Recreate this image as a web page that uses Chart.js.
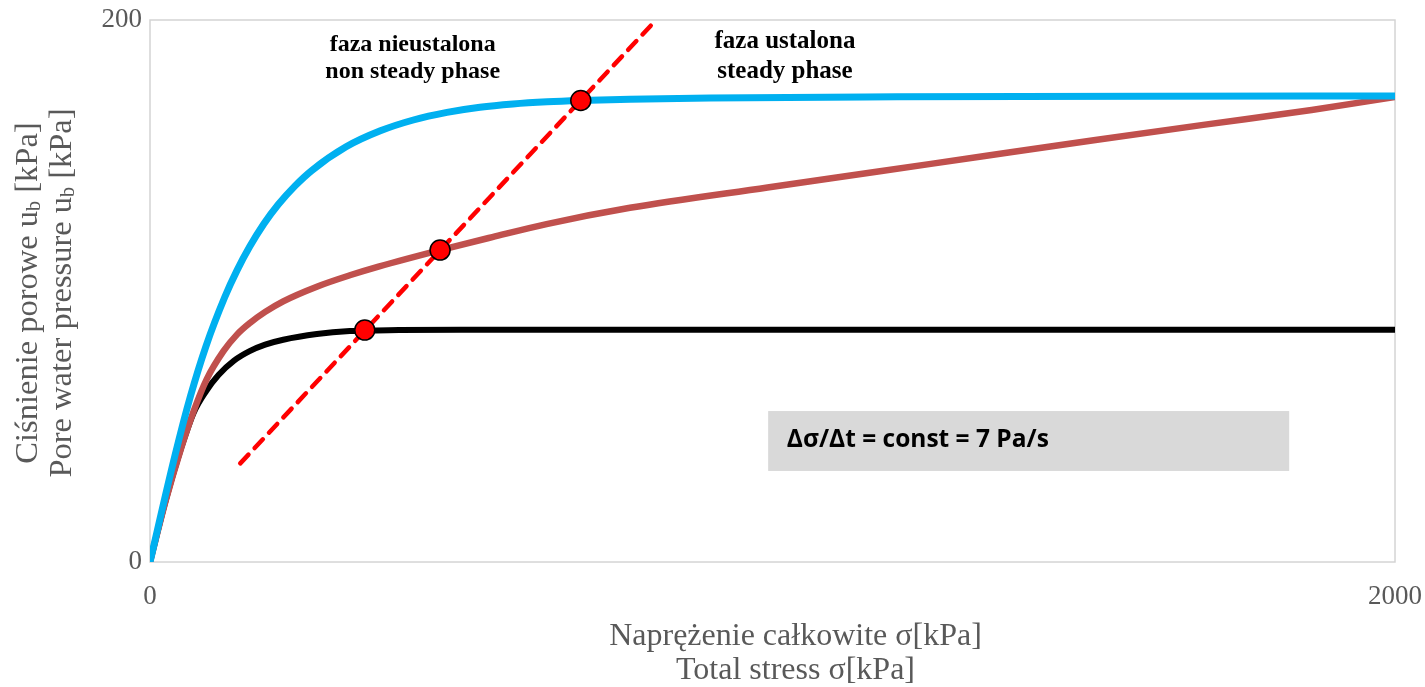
<!DOCTYPE html>
<html>
<head>
<meta charset="utf-8">
<script src="https://cdn.jsdelivr.net/npm/chart.js@4"></script>
<style>
  html, body { margin: 0; padding: 0; background: #fff; }
  #wrap { width: 1425px; height: 687px; }
</style>
</head>
<body>
<div id="wrap"><canvas id="stressChart"></canvas></div>
<script>
// values: total stress [kPa] -> pore water pressure [kPa]
const blueStress = [0, 40, 65, 90, 120, 140, 160, 183, 206, 233, 260, 315, 370, 423, 477, 530, 583, 638, 692, 771, 900, 1200, 1600, 2000];
const bluePressure = [0, 39.2, 61.2, 79.7, 97.7, 107.7, 116.3, 124.8, 131.9, 138.8, 144.5, 153.2, 159.1, 163.1, 165.9, 167.8, 169.0, 169.8, 170.3, 170.8, 171.25, 171.65, 171.9, 172];

const redStress = [0, 25, 50, 70, 91, 118, 140, 161, 185, 214, 268, 321, 367, 466, 550, 637, 771, 992, 1167, 1341, 1516, 1692, 1866, 2000];
const redPressure = [0, 22.5, 42, 55.6, 67.4, 77.8, 84.0, 88.3, 92.3, 96.2, 101.6, 105.8, 109.0, 115.1, 119.9, 124.7, 130.7, 138.2, 144.0, 149.8, 155.6, 161.3, 166.8, 171.6];

const blackStress = [0, 25, 50, 70, 90, 110, 135, 160, 185, 214, 268, 321, 400, 500, 700, 1000, 1500, 2000];
const blackPressure = [0, 22.5, 42, 55, 63, 69, 74.3, 77.8, 80.2, 82.0, 84.1, 85.2, 85.6, 85.7, 85.7, 85.7, 85.7, 85.7];

// dashed boundary between the two phases
const boundaryStress = [145, 813];
const boundaryPressure = [36.4, 200];

// points where the boundary crosses each curve
const crossStress = [345, 466, 692];
const crossPressure = [85.6, 115.1, 170.3];

const xTicks = [0, 2000];
const yTicks = [0, 200];

const pts = (xs, ys) => xs.map((x, i) => ({ x: x, y: ys[i] }));

const grey = '#595959';
const serif = "'Liberation Serif', 'Times New Roman', serif";

// draws a line of text where some parts are subscripts
function drawRich(ctx, parts, cx, cy, size) {
  const subSize = Math.round(size * 0.62);
  let total = 0;
  parts.forEach(p => {
    ctx.font = (p.sub ? subSize : size) + 'px ' + serif;
    p.w = ctx.measureText(p.t).width;
    total += p.w;
  });
  let x = cx - total / 2;
  parts.forEach(p => {
    ctx.font = (p.sub ? subSize : size) + 'px ' + serif;
    ctx.fillText(p.t, x, p.sub ? cy + size * 0.22 : cy);
    x += p.w;
  });
}

const extras = {
  id: 'extras',
  beforeDatasetsDraw(chart) {
    const { ctx, chartArea: a, scales: { x, y } } = chart;
    ctx.save();
    // plot frame
    ctx.strokeStyle = '#d4d4d4';
    ctx.lineWidth = 1.5;
    ctx.strokeRect(a.left, a.top, a.right - a.left, a.bottom - a.top);
    // grey note box
    const bx0 = x.getPixelForValue(993), bx1 = x.getPixelForValue(1830);
    const by0 = y.getPixelForValue(55.7), by1 = y.getPixelForValue(33.6);
    ctx.fillStyle = '#d9d9d9';
    ctx.fillRect(bx0, by0, bx1 - bx0, by1 - by0);
    ctx.fillStyle = '#000';
    ctx.font = "bold 24.5px 'Open Sans', 'Liberation Sans', sans-serif";
    ctx.textBaseline = 'middle';
    ctx.textAlign = 'left';
    ctx.fillText('\u0394\u03c3/\u0394t = const = 7 Pa/s', x.getPixelForValue(1023), y.getPixelForValue(45));
    // phase labels
    ctx.textAlign = 'center';
    ctx.font = 'bold 24px ' + serif;
    ctx.fillText('faza nieustalona', x.getPixelForValue(422), y.getPixelForValue(190.8));
    ctx.fillText('non steady phase', x.getPixelForValue(422), y.getPixelForValue(180.8));
    ctx.font = 'bold 25px ' + serif;
    ctx.fillText('faza ustalona', x.getPixelForValue(1020), y.getPixelForValue(191.9));
    ctx.fillText('steady phase', x.getPixelForValue(1020), y.getPixelForValue(181.0));
    ctx.restore();
  },
  afterDraw(chart) {
    const { ctx, chartArea: a } = chart;
    ctx.save();
    ctx.fillStyle = grey;
    ctx.textBaseline = 'middle';
    ctx.textAlign = 'left';
    // x axis title
    const cx = (a.left + a.right) / 2 + 23;
    drawRich(ctx, [{ t: 'Naprężenie całkowite σ[kPa]' }], cx, a.bottom + 75, 32);
    drawRich(ctx, [{ t: 'Total stress σ[kPa]' }], cx, a.bottom + 109, 32);
    // y axis title, rotated
    const cy = (a.top + a.bottom) / 2 + 2;
    ctx.translate(a.left - 122, cy);
    ctx.rotate(-Math.PI / 2);
    drawRich(ctx, [{ t: 'Ciśnienie porowe u' }, { t: 'b', sub: true }, { t: ' [kPa]' }], 0, 0, 32.5);
    ctx.restore();
    ctx.save();
    ctx.fillStyle = grey;
    ctx.textBaseline = 'middle';
    ctx.translate(a.left - 88, cy);
    ctx.rotate(-Math.PI / 2);
    drawRich(ctx, [{ t: 'Pore water pressure u' }, { t: 'b', sub: true }, { t: ' [kPa]' }], 0, 0, 32.5);
    ctx.restore();
  }
};

const line = (data, color, width) => ({
  data: data,
  showLine: true,
  borderColor: color,
  backgroundColor: color,
  borderWidth: width,
  pointRadius: 0,
  fill: false,
  cubicInterpolationMode: 'monotone',
  borderCapStyle: 'round'
});

const ctx = document.getElementById('stressChart').getContext('2d');
const stressChart = new Chart(ctx, {
  type: 'scatter',
  data: {
    datasets: [
      {
        data: pts(crossStress, crossPressure),
        pointRadius: 10,
        pointBackgroundColor: '#ff0000',
        pointBorderColor: '#000',
        pointBorderWidth: 1.5,
        showLine: false
      },
      Object.assign(line(pts(boundaryStress, boundaryPressure), '#ff0000', 4.5), { borderDash: [12, 9], cubicInterpolationMode: 'default' }),
      line(pts(blueStress, bluePressure), '#00b0f0', 7),
      line(pts(redStress, redPressure), '#c0504d', 6.5),
      line(pts(blackStress, blackPressure), '#000000', 6)
    ]
  },
  options: {
    responsive: true,
    maintainAspectRatio: false,
    animation: false,
    layout: { padding: { top: 20, right: 30, left: 0, bottom: 0 } },
    plugins: { legend: { display: false }, tooltip: { enabled: false } },
    scales: {
      x: {
        type: 'linear',
        min: 0,
        max: 2000,
        afterBuildTicks: s => { s.ticks = xTicks.map(v => ({ value: v })); },
        afterFit: s => { s.height = 125; s.paddingLeft = 0; s.paddingRight = 0; },
        grid: { display: false, drawTicks: false },
        border: { display: false },
        ticks: { color: grey, font: { family: serif, size: 27 }, padding: 19, maxRotation: 0, callback: v => String(v) }
      },
      y: {
        min: 0,
        max: 200,
        afterBuildTicks: s => { s.ticks = yTicks.map(v => ({ value: v })); },
        afterFit: s => { s.width = 150; s.paddingTop = 0; s.paddingBottom = 0; },
        grid: { display: false, drawTicks: false },
        border: { display: false },
        ticks: { color: grey, font: { family: serif, size: 27 }, padding: 8, callback: v => String(v) }
      }
    }
  },
  plugins: [extras]
});
</script>
</body>
</html>
